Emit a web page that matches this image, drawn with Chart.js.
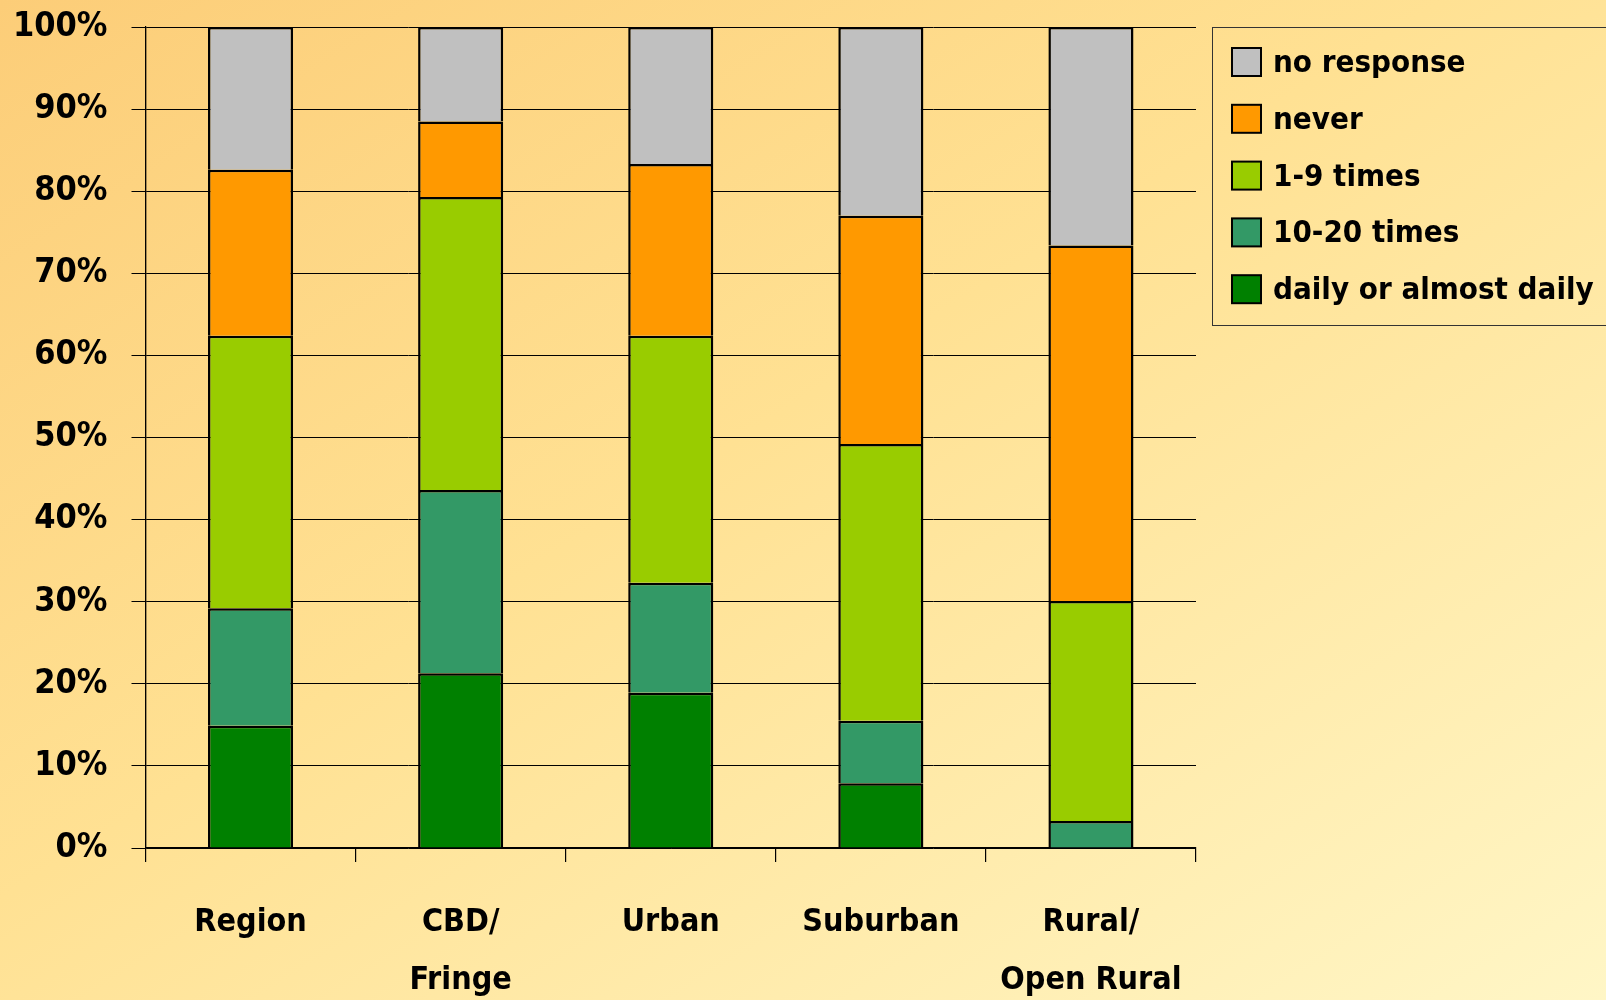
<!DOCTYPE html>
<html>
<head>
<meta charset="utf-8">
<script src="https://cdn.jsdelivr.net/npm/chart.js@4/dist/chart.umd.min.js"></script>
<style>
  html, body { margin: 0; padding: 0; }
  body {
    width: 1606px; height: 1000px; overflow: hidden;
    background: linear-gradient(to bottom right, #FCCD78 0%, #FFE193 45%, #FFF6C6 100%);
  }
  #wrap { position: relative; width: 1606px; height: 1000px; }
</style>
</head>
<body>
<div id="wrap"><canvas id="c" width="1606" height="1000"></canvas></div>
<script>
const categories = ['Region', ['CBD/', 'Fringe'], 'Urban', 'Suburban', ['Rural/', 'Open Rural']];
const seriesNames = ['daily or almost daily', '10-20 times', '1-9 times', 'never', 'no response'];
const dailyValues = [14.9, 21.3, 18.9, 7.9, 0];
const times10to20Values = [14.3, 22.3, 13.4, 7.6, 3.3];
const times1to9Values = [33.2, 35.7, 30.1, 33.7, 26.8];
const neverValues = [20.2, 9.2, 20.9, 27.8, 43.3];
const noResponseValues = [17.4, 11.5, 16.7, 23.0, 26.6];
const yTickValues = [0, 10, 20, 30, 40, 50, 60, 70, 80, 90, 100];
const seriesColors = ['#008000', '#339966', '#99CC00', '#FF9900', '#C0C0C0'];

const FONT = '"Liberation Sans Narrow", "DejaVu Sans Condensed", sans-serif';

const allValues = [dailyValues, times10to20Values, times1to9Values, neverValues, noResponseValues];
const datasets = seriesNames.map((name, i) => ({
  label: name,
  data: allValues[i],
  backgroundColor: seriesColors[i],
  borderColor: '#000000',
  borderWidth: 2.5,
  barPercentage: 0.405,
  categoryPercentage: 1.0
}));

const legendPlugin = {
  id: 'boxLegend',
  afterDraw(chart) {
    const ctx = chart.ctx;
    ctx.save();
    ctx.strokeStyle = '#333333';
    ctx.lineWidth = 1;
    ctx.strokeRect(1212.5, 27.5, 420, 298);
    const ds = chart.data.datasets.slice().reverse();
    ctx.font = 'bold 31px ' + FONT;
    ctx.textBaseline = 'middle';
    ctx.textAlign = 'left';
    ds.forEach((d, i) => {
      const cy = 62 + i * 56.8;
      ctx.fillStyle = d.backgroundColor;
      ctx.fillRect(1232, cy - 14, 29, 28);
      ctx.strokeStyle = '#000000';
      ctx.lineWidth = 2;
      ctx.strokeRect(1232, cy - 14, 29, 28);
      ctx.fillStyle = '#000000';
      ctx.fillText(d.label, 1273, cy + 2);
    });
    ctx.restore();
  }
};

new Chart(document.getElementById('c'), {
  type: 'bar',
  data: { labels: categories, datasets },
  options: {
    responsive: false,
    animation: false,
    layout: { padding: { top: 27, right: 410, left: 0, bottom: 0 } },
    plugins: { legend: { display: false }, tooltip: { enabled: false } },
    scales: {
      x: {
        stacked: true,
        offset: true,
        afterFit(scale) { scale.height = 152; },
        grid: {
          display: true,
          drawOnChartArea: true,
          color: (c) => (c.index === 0 || c.index === categories.length) ? '#000000' : 'rgba(0,0,0,0)',
          tickColor: '#000000',
          tickLength: 14,
          lineWidth: 1.2
        },
        border: { display: true, color: '#000000', width: 1.2 },
        ticks: {
          color: '#000000',
          font: { family: FONT, size: 32, weight: 'bold', lineHeight: 1.8 },
          padding: 32,
          maxRotation: 0,
          autoSkip: false
        }
      },
      y: {
        stacked: true,
        min: 0,
        max: 100,
        afterFit(scale) { scale.width = 145.5; scale.paddingTop = 0; scale.paddingBottom = 0; },
        afterBuildTicks(scale) { scale.ticks = yTickValues.map(v => ({ value: v })); },
        grid: {
          color: '#000000',
          tickColor: '#000000',
          tickLength: 14,
          lineWidth: 1
        },
        border: { display: true, color: '#000000', width: 1.2 },
        ticks: {
          color: '#000000',
          font: { family: FONT, size: 34, weight: 'bold' },
          padding: 24,
          callback: (v) => v + '%'
        }
      }
    }
  },
  plugins: [legendPlugin]
});
</script>
</body>
</html>
